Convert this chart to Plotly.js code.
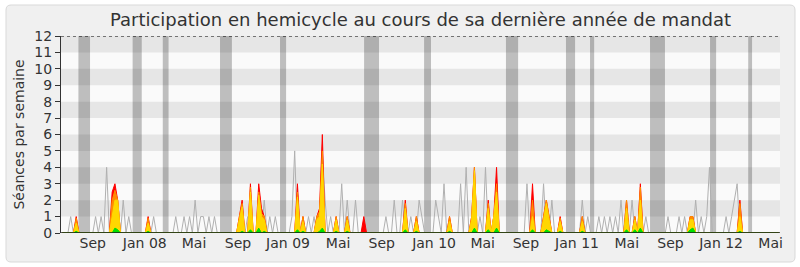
<!DOCTYPE html>
<html>
<head>
<meta charset="utf-8">
<script src="https://cdn.plot.ly/plotly-3.0.1.min.js"></script>
<style>html,body{margin:0;padding:0;background:#fff;}#chart{width:800px;height:267px;}</style>
</head>
<body>
<div id="chart"></div>
<script>
// Weekly values (one entry per week of the legislature)
const gray = [
0,0,0,1,0, 0,0,0,0,0, 0,0,1,0,1, 0,4,0,0,0,
0,0,2,0,1, 0,0,0,0,0, 0,0,0,1,0, 0,0,0,0,0,
0,1,0,0,1, 0,1,0,2,0, 1,1,0,1,0, 1,0,0,0,0,
0,0,0,0,0, 0,0,1,0,0, 0,0,0,2,0, 1,0,1,0,0,
0,0,0,1,5, 0,0,0,0,1, 0,1,0,0,5, 2,0,1,0,0,
0,3,0,2,0, 0,2,0,0,0, 0,0,0,0,0, 0,0,1,0,0,
2,0,0,2,0, 0,1,0,0,2, 1,0,0,0,0, 2,1,0,3,0,
0,0,0,0,3, 0,4,0,0,0, 0,1,0,4,0, 0,0,0,0,0,
0,0,0,0,0, 0,0,0,3,0, 0,0,0,0,3, 0,0,2,0,0,
0,0,0,0,0, 0,0,0,2,0, 1,0,0,0,1, 0,1,0,1,0,
1,0,2,0,0, 0,2,0,0,0, 0,1,0,0,0, 0,0,0,0,1,
0,0,0,1,0, 1,0,0,0,2, 0,1,0,1,4, 0,0,0,0,0,
1,0,1,2,3, 0,0,0,0,0, 0,0,0,0,0, 0,0,0,0,0
];
const red = [
0,0,0,0,0, 1,0,0,0,0, 0,0,0,0,0, 0,0,0,2.5,3,
2,0,0,0,0, 0,0,0,0,0, 0,1,0,0,0, 0,0,0,0,0,
0,0,0,0,0, 0,0,0,0,0, 0,0,0,0,0, 0,0,0,0,0,
0,0,0,0,1, 2,0,0,3,0, 0,3,1.5,1,0, 0,0,0,0,0,
0,0,0,0,0, 3,0,1,0,0, 0,0,1,1.5,6, 0,0,0,0,1,
0,0,0,1,0, 0,0,0,0,1, 0,0,0,0,0, 0,0,0,0,0,
0,0,0,0,2, 0,0,0,1,0, 0,0,0,0,0, 0,0,0,0,0,
1,0,0,0,0, 0,0,0,1,4, 0,0,0,0,2, 0,1,4,0,0,
0,0,0,0,0, 0,0,0,0,0, 3,0,0,0,1, 2,1,0,0,0,
1,0,0,0,0, 0,0,0,1,0, 0,0,0,0,0, 0,0,0,0,0,
0,0,0,0,2, 0,0,1,0,3, 0,0,0,0,0, 0,0,0,0,0,
0,0,0,0,0, 0,0,1,1,0, 0,0,0,0,0, 0,0,0,0,0,
0,0,0,0,0, 2,0,0,0,0, 0,0,0,0,0, 0,0,0,0,0
];
const orange = [
0,0,0,0,0, 0.9,0,0,0,0, 0,0,0,0,0, 0,0,0,2,2.6,
2,0,0,0,0, 0,0,0,0,0, 0,0.9,0,0,0, 0,0,0,0,0,
0,0,0,0,0, 0,0,0,0,0, 0,0,0,0,0, 0,0,0,0,0,
0,0,0,0,1, 1.8,0,0,2.8,0, 0,2.5,1.2,1,0, 0,0,0,0,0,
0,0,0,0,0, 2.5,0,1,0,0, 0,0,1,1.3,5, 0,0,0,0,1,
0,0,0,1,0, 0,0,0,0,0, 0,0,0,0,0, 0,0,0,0,0,
0,0,0,0,1.8, 0,0,0,1,0, 0,0,0,0,0, 0,0,0,0,0,
1,0,0,0,0, 0,0,0,1,4, 0,0,0,0,1.8, 0,1,3,0,0,
0,0,0,0,0, 0,0,0,0,0, 2,0,0,0,1, 2,1,0,0,0,
0.9,0,0,0,0, 0,0,0,1,0, 0,0,0,0,0, 0,0,0,0,0,
0,0,0,0,2, 0,0,1,0,2.8, 0,0,0,0,0, 0,0,0,0,0,
0,0,0,0,0, 0,0,1,1,0, 0,0,0,0,0, 0,0,0,0,0,
0,0,0,0,0, 1.8,0,0,0,0, 0,0,0,0,0, 0,0,0,0,0
];
const yellow = [
0,0,0,0,0, 0.6,0,0,0,0, 0,0,0,0,0, 0,0,0,1,2,
2,0,0,0,0, 0,0,0,0,0, 0,0.6,0,0,0, 0,0,0,0,0,
0,0,0,0,0, 0,0,0,0,0, 0,0,0,0,0, 0,0,0,0,0,
0,0,0,0,0.8, 1.6,0,0,2.5,0, 0,2.3,1,0.8,0, 0,0,0,0,0,
0,0,0,0,0, 2.2,0,0.7,0,0, 0,0,0.8,1,4.2, 0,0,0,0,0.8,
0,0,0,0.8,0, 0,0,0,0,0, 0,0,0,0,0, 0,0,0,0,0,
0,0,0,0,1.5, 0,0,0,0.7,0, 0,0,0,0,0, 0,0,0,0,0,
0.7,0,0,0,0, 0,0,0,0.8,3.8, 0,0,0,0,1.5, 0,1,2.5,0,0,
0,0,0,0,0, 0,0,0,0,0, 1,0,0,0,0.8, 1.8,0.8,0,0,0,
0.7,0,0,0,0, 0,0,0,0.7,0, 0,0,0,0,0, 0,0,0,0,0,
0,0,0,0,1.5, 0,0,0.8,0,2, 0,0,0,0,0, 0,0,0,0,0,
0,0,0,0,0, 0,0,0.8,0.8,0, 0,0,0,0,0, 0,0,0,0,0,
0,0,0,0,0, 1,0,0,0,0, 0,0,0,0,0, 0,0,0,0,0
];
const green = [
0,0,0,0,0, 0.1,0,0,0,0, 0,0,0,0,0, 0,0,0,0,0.3,
0.2,0,0,0,0, 0,0,0,0,0, 0,0.1,0,0,0, 0,0,0,0,0,
0,0,0,0,0, 0,0,0,0,0, 0,0,0,0,0, 0,0,0,0,0,
0,0,0,0,0, 0.1,0,0,0.2,0, 0,0.3,0,0.1,0, 0,0,0,0,0,
0,0,0,0,0, 0.2,0,0.1,0,0, 0,0,0,0.1,0.3, 0,0,0,0,0.1,
0,0,0,0.1,0, 0,0,0,0,0, 0,0,0,0,0, 0,0,0,0,0,
0,0,0,0,0.2, 0,0,0,0.1,0, 0,0,0,0,0, 0,0,0,0,0,
0.1,0,0,0,0, 0,0,0,0,0.3, 0,0,0,0,0.2, 0,0,0.3,0,0,
0,0,0,0,0, 0,0,0,0,0, 0.2,0,0,0,0, 0.2,0.1,0,0,0,
0.1,0,0,0,0, 0,0,0,0.1,0, 0,0,0,0,0, 0,0,0,0,0,
0,0,0,0,0.2, 0,0,0.2,0,0.3, 0,0,0,0,0, 0,0,0,0,0,
0,0,0,0,0, 0,0,0.2,0.3,0, 0,0,0,0,0, 0,0,0,0,0,
0,0,0,0,0, 0.1,0,0,0,0, 0,0,0,0,0, 0,0,0,0,0
];
// Parliamentary recess periods, in week units [start, end]
const vacStart = [5.8, 25.4, 36.3, 57.0, 78.7, 109.1, 130.8, 160.4, 182.1, 190.8, 212.5, 234.2, 248.0];
const vacEnd   = [10.0, 28.7, 38.4, 61.3, 80.9, 114.5, 133.3, 164.8, 185.4, 192.3, 217.9, 236.4, 249.4];
// Month tick labels (week positions)
const tickPos = [11.0, 29.8, 47.6, 63.5, 81.6, 99.7, 115.5, 134.4, 152.0, 167.6, 186.1, 204.1, 219.9, 238.2, 256.1];
const tickLabels = ['Sep','Jan 08','Mai','Sep','Jan 09','Mai','Sep','Jan 10','Mai','Sep','Jan 11','Mai','Sep','Jan 12','Mai'];
const yTicks = [0,1,2,3,4,5,6,7,8,9,10,11,12];

const weeks = gray.map((_, i) => i);
const X0 = -0.5, X1 = weeks.length - 0.5;

// plot area in px: left 61, right 780, top 36, bottom 233
const L = 61, R = 780, T = 36, B = 233;
const px2x = p => (p - L) / (R - L);
const py2y = p => (B - p) / (B - T);

function framePath(){
  const x0 = px2x(6), x1 = px2x(795), y0 = py2y(262), y1 = py2y(5);
  const rx = 5/(R-L), ry = 5/(B-T);
  return `M${x0+rx},${y1} L${x1-rx},${y1} Q${x1},${y1} ${x1},${y1-ry} L${x1},${y0+ry} Q${x1},${y0} ${x1-rx},${y0} L${x0+rx},${y0} Q${x0},${y0} ${x0},${y0+ry} L${x0},${y1-ry} Q${x0},${y1} ${x0+rx},${y1} Z`;
}

const shapes = [];
shapes.push({type:'path', xref:'paper', yref:'paper', path: framePath(), fillcolor:'#f0f0f0', line:{color:'#d9d9d9', width:1}, layer:'below'});
shapes.push({type:'rect', xref:'x', yref:'y', x0:X0, x1:X1, y0:0, y1:12, fillcolor:'#fafafa', line:{width:0}, layer:'below'});
for (let k = 1; k < 12; k += 2) {
  shapes.push({type:'rect', xref:'x', yref:'y', x0:X0, x1:X1, y0:k, y1:k+1, fillcolor:'#e6e6e6', line:{width:0}, layer:'below'});
}
for (let k = 0; k < vacStart.length; k++) {
  shapes.push({type:'rect', xref:'x', yref:'y', x0:vacStart[k], x1:vacEnd[k], y0:0, y1:12, fillcolor:'rgba(0,0,0,0.24)', line:{width:0}, layer:'below'});
}
shapes.push({type:'line', xref:'x', yref:'y', x0:X0, x1:X1, y0:12, y1:12, line:{color:'#000', width:1, dash:'dot'}, layer:'above'});
// baseline drawn above the filled areas
shapes.push({type:'line', xref:'x', yref:'y', x0:X0, x1:X1, y0:0, y1:0, line:{color:'#1a1a1a', width:1.5}, layer:'above'});

function area(y, color){
  return {x: weeks, y: y, type:'scatter', mode:'lines', fill:'tozeroy', fillcolor: color,
          line:{color: color, width:1, shape:'linear'}, hoverinfo:'skip'};
}
const traces = [
  {x: weeks, y: gray, type:'scatter', mode:'lines', line:{color:'#b0b0b0', width:1}, hoverinfo:'skip'},
  area(red, '#ff0000'),
  area(orange, '#ff8c00'),
  area(yellow, '#ffd700'),
  area(green, '#00e000')
];

const layout = {
  width:800, height:267,
  margin:{l:L, r:800-R, t:T, b:267-B, pad:0},
  paper_bgcolor:'#ffffff', plot_bgcolor:'rgba(0,0,0,0)',
  font:{family:'DejaVu Sans, Verdana, sans-serif', size:14, color:'#333333'},
  showlegend:false,
  title:{text:'Participation en hemicycle au cours de sa dernière année de mandat',
         font:{size:18, color:'#333333'}, x:0.5, xref:'paper', xanchor:'center', y:1-20/267, yanchor:'middle'},
  xaxis:{range:[X0, X1], tickmode:'array', tickvals:tickPos, ticktext:tickLabels, ticks:'',
         showgrid:false, zeroline:false, showline:false,
         tickfont:{size:14, color:'#333333'}},
  yaxis:{range:[0,12], tickmode:'array', tickvals:yTicks, ticks:'outside', ticklen:5, tickcolor:'#333333',
         showgrid:false, zeroline:false, showline:true, linecolor:'#333333', linewidth:1,
         tickfont:{size:14, color:'#333333'},
         title:{text:'Séances par semaine', font:{size:14, color:'#333333'}, standoff:6}},
  shapes: shapes
};
Plotly.newPlot('chart', traces, layout, {staticPlot:true, displayModeBar:false});
</script>
</body>
</html>
